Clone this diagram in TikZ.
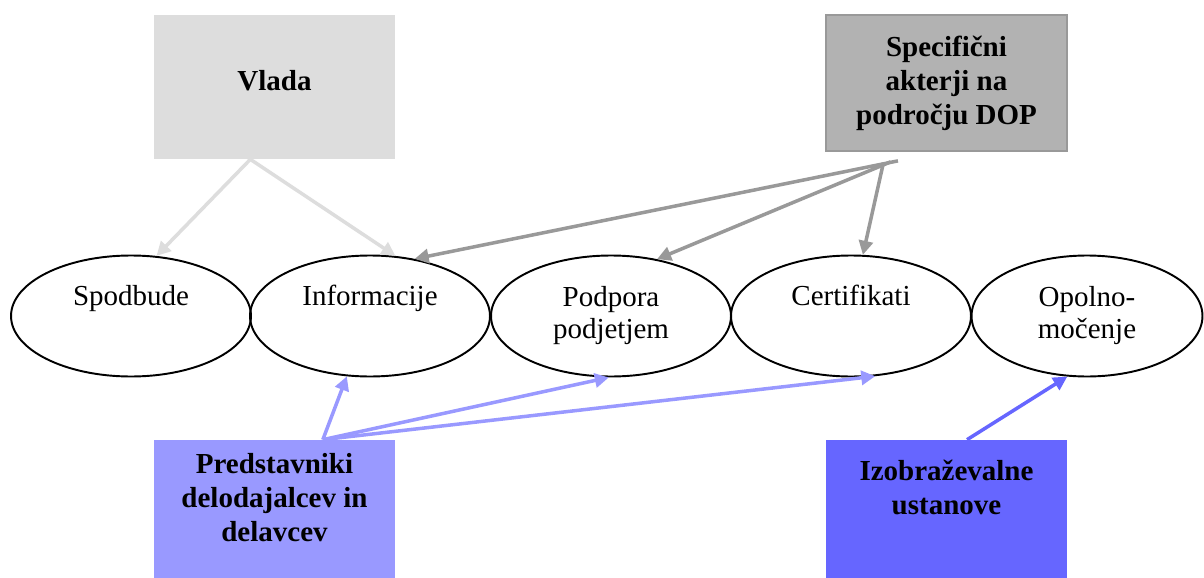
\documentclass[tikz,border=0pt]{standalone}
\usepackage{fontspec}
\setmainfont{Liberation Serif}
\usetikzlibrary{arrows.meta, shapes.geometric, calc}

\definecolor{vladagray}{HTML}{DDDDDD}
\definecolor{dopgray}{HTML}{B2B2B2}
\definecolor{dopline}{HTML}{999999}
\definecolor{predblue}{HTML}{9999FF}
\definecolor{izobblue}{HTML}{6666FF}

\begin{document}
\begin{tikzpicture}[x=0.02cm, y=-0.02cm, >={Triangle[length=8pt, width=8pt]},
    area/.style={ellipse, draw, line width=1.1pt, minimum width=4.8cm, minimum height=2.42cm,
        inner sep=0pt, align=center, font=\fontsize{16.5}{18.2}\selectfont},
    actor/.style={rectangle, minimum width=4.82cm, inner sep=0pt, align=center,
        font=\fontsize{16.5}{19.3}\selectfont\bfseries},
    link/.style={->, line width=2pt}]
    \useasboundingbox (0,0) rectangle (1204,578);

    % Actors
    \node[actor, fill=vladagray, minimum height=2.88cm, text depth=7pt] (vlada) at (274.5,87) {Vlada};
    \node[actor, fill=dopgray, draw=dopline, line width=1pt, minimum height=2.72cm] (dop) at (946.5,83)
        {Specifični\\akterji na\\področju DOP};
    \node[actor, fill=predblue, minimum height=2.76cm] (predstavniki) at (274.5,509)
        {Predstavniki\\delodajalcev in\\delavcev\\[-12pt]\strut};
    \node[actor, fill=izobblue, minimum height=2.76cm] (izobrazevalne) at (946.5,509)
        {Izobraževalne\\ustanove\\\strut};

    % Areas of activity
    \node[area] (spodbude) at (131,316) {Spodbude\\\strut};
    \node[area] (informacije) at (370,316) {Informacije\\\strut};
    \node[area] (podpora) at (611,316) {Podpora\\podjetjem};
    \node[area] (certifikati) at (851,316) {Certifikati\\\strut};
    \node[area, minimum width=4.62cm] (opolnomocenje) at (1087,316) {Opolno-\\močenje};

    % Government
    \draw[link, vladagray] ($(vlada.south west)!0.4!(vlada.south east)$) -- (spodbude.67);
    \draw[link, vladagray] ($(vlada.south west)!0.4!(vlada.south east)$) -- (informacije.67);

    % Specific actors
    \draw[link, dopline] ($(dop.south west)!0.3!(dop.south east)+(0,9)$) -- (informacije.52);
    \draw[link, dopline] ($(dop.south west)!0.27!(dop.south east)+(0,10)$) -- (podpora.51);
    \draw[link, dopline] ($(dop.south west)!0.24!(dop.south east)+(0,11)$) -- (certifikati.79);

    % Social partners
    \draw[link, predblue] ($(predstavniki.north west)!0.7!(predstavniki.north east)$) -- (informacije.249);
    \draw[link, predblue] ($(predstavniki.north west)!0.7!(predstavniki.north east)$) -- (podpora.268);
    \draw[link, predblue] ($(predstavniki.north west)!0.7!(predstavniki.north east)$) -- (certifikati.292);

    % Education
    \draw[link, izobblue] ($(izobrazevalne.north west)!0.585!(izobrazevalne.north east)$) -- (opolnomocenje.252);

\end{tikzpicture}
\end{document}
